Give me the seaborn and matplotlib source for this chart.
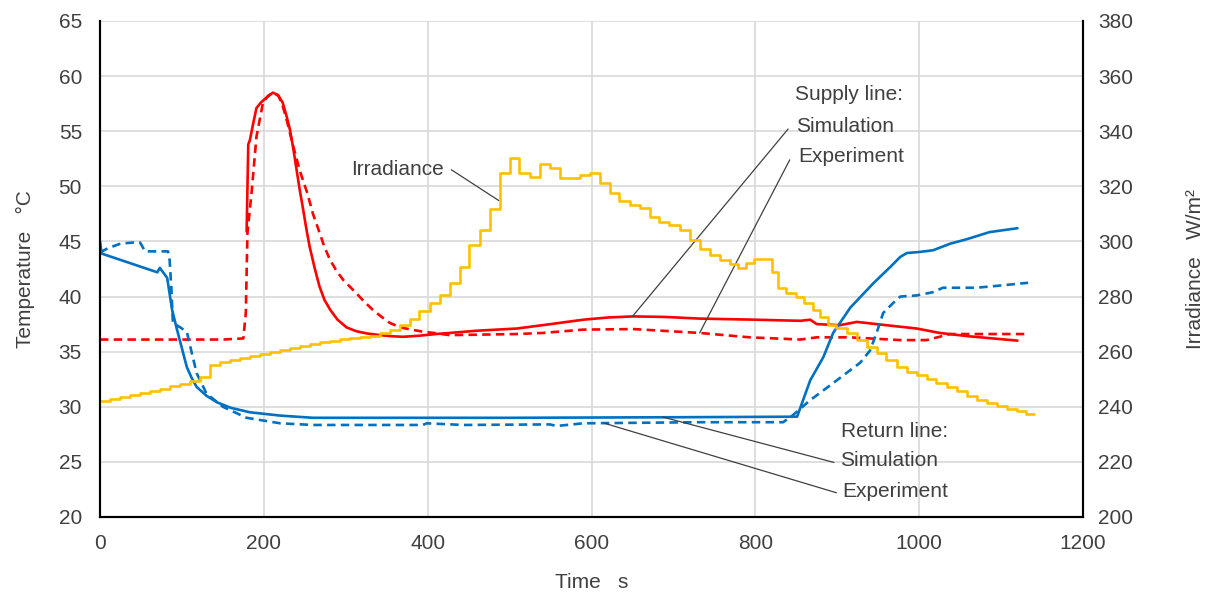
import numpy as np
import pandas as pd
import matplotlib.pyplot as plt
import seaborn as sns

# supply line (red), temperature in °C
SUPPLY_SIM_T = [179, 181, 183, 187, 191, 197, 204, 211, 217, 223, 228, 232, 236, 240, 244, 248,
                252, 256, 262, 268, 274, 281, 290, 301, 313, 326, 342, 356, 370, 390, 410, 427,
                460, 509, 550, 590, 620, 651, 690, 732, 800, 855, 867, 875, 903, 924, 960, 997,
                1025, 1060, 1090, 1120]
SUPPLY_SIM_Y = [45.9, 53.8, 54.2, 55.7, 57.1, 57.65, 58.1, 58.5, 58.3, 57.6, 56.3, 55.1, 53.4,
                51.5, 49.6, 47.9, 46.1, 44.5, 42.6, 40.9, 39.7, 38.8, 37.9, 37.2, 36.85, 36.65,
                36.5, 36.4, 36.35, 36.45, 36.6, 36.7, 36.9, 37.1, 37.5, 37.9, 38.1, 38.2,
                38.15, 38.0, 37.9, 37.8, 37.9, 37.5, 37.4, 37.7, 37.4, 37.1, 36.7, 36.4, 36.2,
                36.0]
SUPPLY_EXP_T = [0, 150, 175, 178, 180, 185, 191, 199, 205, 211, 218, 223, 228, 236, 244, 253,
                260, 268, 274, 281, 289, 297, 305, 313, 323, 333, 343, 354, 367, 380, 395, 407,
                427, 509, 541, 590, 651, 732, 793, 855, 875, 915, 977, 1009, 1038, 1133]
SUPPLY_EXP_Y = [36.1, 36.1, 36.2, 38.5, 45.8, 49.4, 54.5, 57.6, 58.2, 58.5, 58.2, 57.3, 56.0,
                53.6, 51.4, 49.4, 47.5, 45.8, 44.5, 43.3, 42.3, 41.5, 40.9, 40.3, 39.5, 38.8,
                38.2, 37.6, 37.2, 37.0, 36.8, 36.7, 36.5, 36.6, 36.7, 37.0, 37.05, 36.7, 36.3,
                36.1, 36.3, 36.3, 36.05, 36.05, 36.6, 36.6]

# return line (blue)
RETURN_SIM_T = [0, 2, 70, 73, 82, 88, 94, 100, 106, 112, 118, 130, 143, 160, 183, 220, 260,
                500, 700, 851, 867, 883, 895, 916, 944, 965, 977, 985, 1001, 1017, 1038, 1058,
                1086, 1120]
RETURN_SIM_Y = [45.0, 43.9, 42.2, 42.6, 41.7, 38.8, 37.0, 35.3, 33.6, 32.6, 31.8, 31.0, 30.4,
                29.9, 29.5, 29.2, 29.0, 29.0, 29.05, 29.1, 32.4, 34.5, 36.7, 39.0, 41.2, 42.7,
                43.6, 43.95, 44.05, 44.2, 44.8, 45.2, 45.85, 46.2]
RETURN_EXP_T = [0, 10, 25, 40, 49, 55, 83, 85, 87, 89, 98, 106, 112, 118, 130, 150, 179, 220,
                260, 394, 399, 443, 549, 558, 563, 590, 732, 834, 846, 867, 895, 928, 940, 948,
                956, 968, 977, 997, 1017, 1029, 1070, 1099, 1133]
RETURN_EXP_Y = [44.0, 44.4, 44.8, 44.9, 44.9, 44.1, 44.1, 43.3, 40.9, 37.6, 37.2, 36.8, 34.9,
                33.05, 31.2, 30.0, 29.0, 28.5, 28.35, 28.35, 28.5, 28.35, 28.4, 28.25, 28.3,
                28.5, 28.6, 28.6, 29.25, 30.6, 32.15, 34.0, 35.1, 36.7, 38.5, 39.4, 40.0, 40.1,
                40.4, 40.8, 40.8, 41.0, 41.25]

# irradiance (yellow, right axis), W/m2, step changes
IRR_T = [0, 12, 24, 37, 49, 61, 73, 85, 98, 110, 122, 134, 146, 159, 171, 183, 195, 207, 220,
         232, 244, 256, 268, 281, 293, 305, 317, 329, 342, 354, 366, 378, 390, 403, 415, 427,
         439, 451, 464, 476, 488, 500, 512, 525, 537, 549, 561, 573, 586, 598, 610, 622, 634,
         647, 659, 671, 683, 695, 708, 720, 732, 745, 757, 769, 779, 789, 798, 820, 828, 838,
         850, 860, 870, 879, 889, 899, 912, 924, 936, 948, 960, 973, 985, 997, 1009, 1021,
         1034, 1046, 1058, 1070, 1083, 1095, 1107, 1119, 1131, 1140]
IRR_Y = [242.0, 242.8, 243.5, 244.3, 245.0, 245.8, 246.6, 247.4, 248.2, 249.2, 250.8, 255.3,
         256.3, 257.0, 257.8, 258.6, 259.3, 260.0, 260.6, 261.3, 262.0, 262.7, 263.4, 264.0,
         264.5, 265.0, 265.4, 265.8, 266.6, 268.0, 269.7, 272.0, 274.6, 277.7, 280.6, 284.9,
         290.7, 298.7, 304.2, 311.8, 324.8, 330.3, 324.8, 323.4, 328.1, 326.7, 323.0, 323.0,
         324.1, 324.8, 321.2, 317.6, 314.7, 313.2, 312.1, 308.9, 307.1, 306.0, 304.2, 300.5,
         297.3, 295.1, 293.3, 291.8, 290.4, 292.2, 293.6, 288.9, 283.1, 281.3, 279.9, 277.7,
         275.1, 272.6, 269.7, 268.6, 266.8, 264.3, 261.7, 259.5, 257.0, 254.5, 252.8, 251.4,
         250.0, 248.7, 247.2, 245.6, 244.0, 242.6, 241.3, 240.2, 239.2, 238.3, 237.5, 237.5]

RED = '#ff0000'
BLUE = '#0070c0'
YELLOW = '#ffc000'
TEXT = '#404040'
LW = 1.9
DASH = (0, (3.2, 2.0))
FS = 15

sns.set_theme(style='whitegrid')
plt.rcParams['font.family'] = ['Liberation Sans', 'DejaVu Sans']

fig = plt.figure(figsize=(12.11, 5.95), dpi=100)
ax = fig.add_axes([100 / 1211, 1 - 517 / 595, 983 / 1211, 496 / 595])
ax2 = ax.twinx()

# temperature lines
sns.lineplot(x=SUPPLY_SIM_T, y=SUPPLY_SIM_Y, ax=ax, color=RED, lw=LW,
             estimator=None, sort=False)
sns.lineplot(x=SUPPLY_EXP_T, y=SUPPLY_EXP_Y, ax=ax, color=RED, lw=LW, linestyle=DASH,
             estimator=None, sort=False)
sns.lineplot(x=RETURN_SIM_T, y=RETURN_SIM_Y, ax=ax, color=BLUE, lw=LW,
             estimator=None, sort=False)
sns.lineplot(x=RETURN_EXP_T, y=RETURN_EXP_Y, ax=ax, color=BLUE, lw=LW, linestyle=DASH,
             estimator=None, sort=False)

# irradiance on secondary axis
sns.lineplot(x=IRR_T, y=IRR_Y, ax=ax2, color=YELLOW, lw=LW, drawstyle='steps-post',
             estimator=None, sort=False)

ax.set_xlim(0, 1200)
ax.set_ylim(20, 65)
ax.set_xticks(np.arange(0, 1201, 200))
ax.set_yticks(np.arange(20, 66, 5))
ax2.set_ylim(200, 380)
ax2.set_yticks(np.arange(200, 381, 20))

for a in (ax, ax2):
    a.tick_params(length=0, labelsize=FS, labelcolor=TEXT)
    a.grid(False)
    for side in ('left', 'right', 'bottom'):
        a.spines[side].set_visible(True)
        a.spines[side].set_color('black')
        a.spines[side].set_linewidth(1.5)
    a.spines['top'].set_visible(False)
ax.tick_params(axis='y', pad=13)
ax.tick_params(axis='x', pad=12)
ax2.tick_params(axis='y', pad=11)
ax.grid(True, color='#d9d9d9', lw=1.2)
ax.set_facecolor('white')
ax2.patch.set_visible(False)

ax.set_xlabel('Time   s', fontsize=FS, color=TEXT, labelpad=15)
ax.set_ylabel('Temperature   °C', fontsize=FS, color=TEXT, labelpad=17)
ax2.set_ylabel('Irradiance   W/m²', fontsize=FS, color=TEXT, labelpad=38)

# annotations
line_kw = dict(arrowstyle='-', color=TEXT, lw=0.9, shrinkA=0, shrinkB=0)
txt_kw = dict(fontsize=FS, color=TEXT, va='center')

ax.text(420, 51.5, 'Irradiance', ha='right', **txt_kw)
ax.annotate('', xy=(487, 48.7), xytext=(429, 51.5), arrowprops=line_kw)

ax.text(848, 58.3, 'Supply line:', ha='left', **txt_kw)
ax.text(850, 55.4, 'Simulation', ha='left', **txt_kw)
ax.text(853, 52.7, 'Experiment', ha='left', **txt_kw)
ax.annotate('', xy=(650, 38.2), xytext=(840, 55.2), arrowprops=line_kw)
ax.annotate('', xy=(732, 36.7), xytext=(842, 52.4), arrowprops=line_kw)

ax.text(904, 27.8, 'Return line:', ha='left', **txt_kw)
ax.text(904, 25.1, 'Simulation', ha='left', **txt_kw)
ax.text(906, 22.3, 'Experiment', ha='left', **txt_kw)
ax.annotate('', xy=(687, 29.07), xytext=(896, 24.95), arrowprops=line_kw)
ax.annotate('', xy=(616, 28.5), xytext=(899, 22.2), arrowprops=line_kw)

fig.savefig('out.png', dpi=100, facecolor='white')
